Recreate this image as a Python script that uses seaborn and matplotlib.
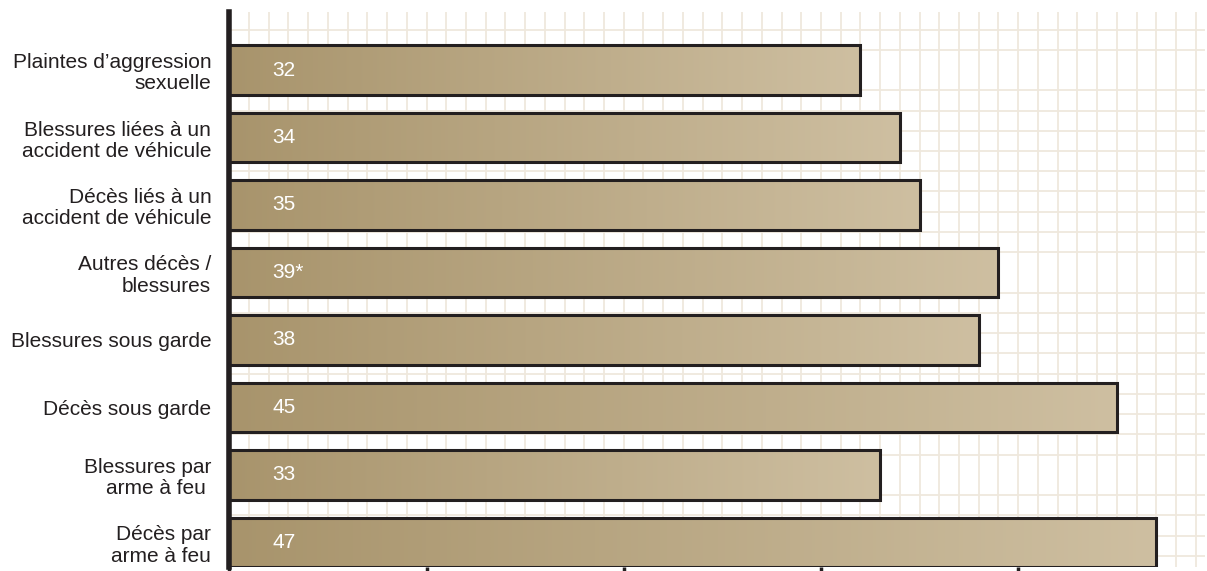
import numpy as np
import matplotlib
matplotlib.use("Agg")
import matplotlib.pyplot as plt
import seaborn as sns
from matplotlib.colors import LinearSegmentedColormap
from matplotlib.ticker import MultipleLocator

categories = [
    "Plaintes d\u2019aggression\nsexuelle",
    "Blessures li\u00e9es \u00e0 un\naccident de v\u00e9hicule",
    "D\u00e9c\u00e8s li\u00e9s \u00e0 un\naccident de v\u00e9hicule",
    "Autres d\u00e9c\u00e8s /\nblessures",
    "Blessures sous garde",
    "D\u00e9c\u00e8s sous garde",
    "Blessures par\narme \u00e0 feu ",
    "D\u00e9c\u00e8s par\narme \u00e0 feu",
]
values = [32, 34, 35, 39, 38, 45, 33, 47]
value_labels = ["32", "34", "35", "39*", "38", "45", "33", "47"]

sns.set_style("white")
plt.rcParams["font.family"] = ["Liberation Sans Narrow", "Liberation Sans", "DejaVu Sans"]

fig, ax = plt.subplots(figsize=(12.07, 5.71), dpi=100)
fig.subplots_adjust(left=0.19, right=0.998, top=0.979, bottom=0.007)

sns.barplot(x=values, y=categories, orient="h", ax=ax, width=0.73,
            facecolor="none", edgecolor="#231f20", linewidth=2.2, zorder=3)

cmap = LinearSegmentedColormap.from_list("tan", ["#a8946c", "#cebfa1"])
grad = np.linspace(0, 1, 256).reshape(1, -1)
for patch in ax.patches:
    x0, y0 = patch.get_x(), patch.get_y()
    w, h = patch.get_width(), patch.get_height()
    im = ax.imshow(grad, cmap=cmap, aspect="auto", extent=(x0, x0 + w, y0 + h, y0),
                   zorder=2, interpolation="bicubic")
    im.set_clip_path(patch)

for i, lab in enumerate(value_labels):
    ax.text(2.2, i, lab, color="white", fontsize=15, va="center", ha="left", zorder=4)

ax.set_xlim(0, 49.45)
ax.set_ylim(7.365, -0.86)

ax.xaxis.set_major_locator(MultipleLocator(10))
ax.xaxis.set_minor_locator(MultipleLocator(1))
ax.set_xticklabels([])
ax.tick_params(axis="x", which="major", direction="out", length=8, width=2.5,
               color="#231f20", bottom=True)
ax.tick_params(axis="x", which="minor", length=0)
ax.grid(which="minor", axis="x", color="#efe8dd", linewidth=1.3, zorder=0)
ax.grid(which="major", axis="x", color="#efe8dd", linewidth=1.3, zorder=0)
ax.yaxis.set_minor_locator(MultipleLocator(0.3))
ax.grid(which="minor", axis="y", color="#efe8dd", linewidth=1.3, zorder=0)
ax.set_axisbelow(True)

ax.tick_params(axis="y", length=0, labelsize=15, pad=13, labelcolor="#231f20")
for lab in ax.get_yticklabels():
    lab.set_horizontalalignment("right")
    lab.set_multialignment("right")
    lab.set_linespacing(1.15)

for s in ["top", "right", "bottom"]:
    ax.spines[s].set_visible(False)
ax.spines["left"].set_linewidth(4)
ax.spines["left"].set_color("#231f20")
ax.set_xlabel("")
ax.set_ylabel("")

fig.savefig("out.png", dpi=100)
